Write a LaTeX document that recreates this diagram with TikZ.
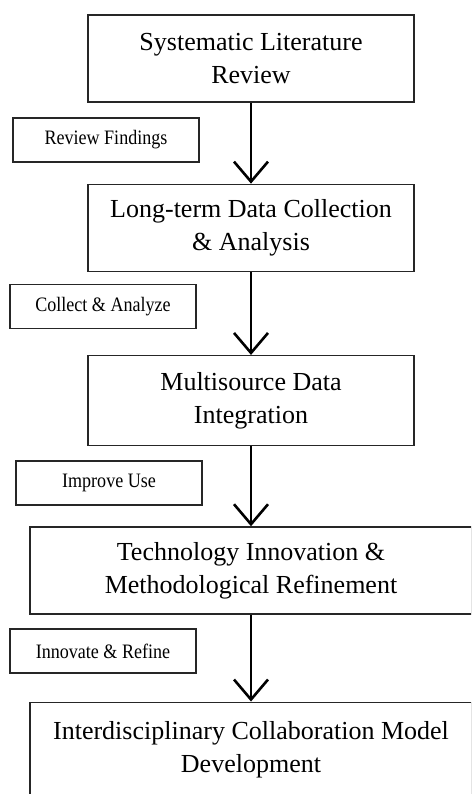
\documentclass[tikz,border=0pt]{standalone}
\usepackage{fontspec}
\setmainfont{Liberation Serif}
\newfontfamily\tagfont[FakeStretch=0.88]{Liberation Serif}
\usetikzlibrary{positioning,arrows.meta}

\begin{document}
\begin{tikzpicture}[
    x=1pt, y=1pt,
    stage/.style={rectangle, draw=black!85, line width=1.3pt, align=center,
                  minimum height=87pt, font=\fontsize{26}{33}\selectfont},
    narrow/.style={stage, minimum width=326pt},
    wide/.style={stage, minimum width=442pt},
    tag/.style={rectangle, draw=black!85, line width=1.2pt, minimum width=186pt,
                minimum height=44pt, font=\tagfont\fontsize{20.5}{24}\selectfont},
    flow/.style={-{Straight Barb[length=20pt,width=34pt]}, line width=2.6pt}
]
    \useasboundingbox (0,0) rectangle (471,794);
    \clip (0,0) rectangle (471,794);

    \node[narrow] (review) at (251,735.5) {Systematic Literature\\Review};
    \node[narrow, below=81pt of review] (collect) {Long-term Data Collection\\\& Analysis};
    \node[narrow, below=83pt of collect, minimum height=90pt] (integ) {Multisource Data\\Integration};
    \node[wide, below=80pt of integ] (tech) {Technology Innovation \&\\Methodological Refinement};
    \node[wide, below=87pt of tech, inner ysep=19pt, text depth=80pt] (collab)
        {Interdisciplinary Collaboration Model\\Development};

    \node[tag] (findings) at (106,654)   {Review Findings};
    \node[tag] (analyze)  at (103,487.5) {Collect \& Analyze};
    \node[tag] (improve)  at (109,311)   {Improve Use};
    \node[tag] (refine)   at (103,143)   {Innovate \& Refine};

    \draw[flow] (review)  -- (collect);
    \draw[flow] (collect) -- (integ);
    \draw[flow] (integ)   -- (tech);
    \draw[flow] (tech)    -- (collab);
\end{tikzpicture}
\end{document}
